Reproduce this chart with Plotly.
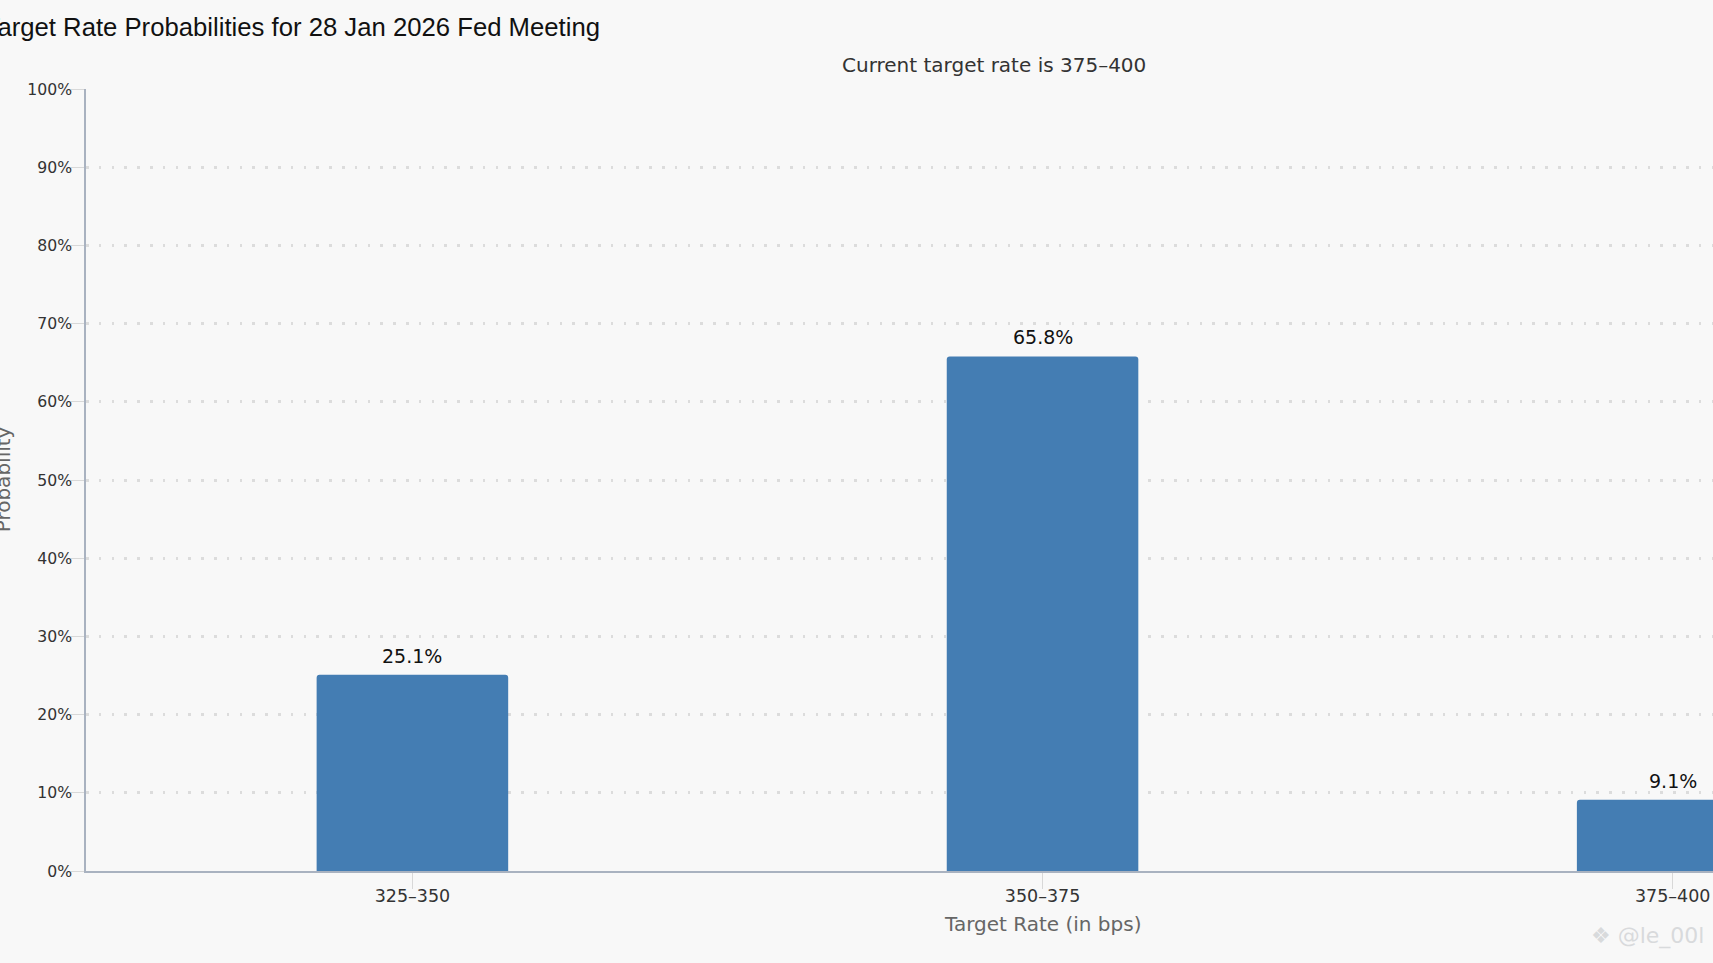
import plotly.graph_objects as go

categories = ["325–350", "350–375", "375–400"]
probabilities = [25.1, 65.8, 9.1]
data_labels = ["25.1%", "65.8%", "9.1%"]
y_ticks = [0, 10, 20, 30, 40, 50, 60, 70, 80, 90, 100]
y_tick_labels = ["0%", "10%", "20%", "30%", "40%", "50%", "60%", "70%", "80%", "90%", "100%"]

FONT = "DejaVu Sans"
BG = "#f8f8f8"
AXIS_LEFT = 86
PLOT_W = 1713 - AXIS_LEFT
PLOT_H = 782

fig = go.Figure(go.Bar(
    x=categories,
    y=probabilities,
    width=0.304,
    marker=dict(color="#447db3", cornerradius=3, line=dict(width=0)),
    hoverinfo="x+y",
))

label_annotations = [
    dict(text=t, x=c, y=v, xref="x", yref="y", showarrow=False, yshift=19,
         xanchor="center", yanchor="middle",
         font=dict(family=FONT, size=19, color="#111111"))
    for c, v, t in zip(categories, probabilities, data_labels)
]

fig.update_layout(
    width=1713,
    height=963,
    autosize=False,
    margin=dict(l=AXIS_LEFT, r=0, t=89, b=92, pad=0),
    paper_bgcolor=BG,
    plot_bgcolor=BG,
    showlegend=False,
    font=dict(family=FONT, size=16, color="#333333"),
    title=dict(
        text="Target Rate Probabilities for 28 Jan 2026 Fed Meeting",
        font=dict(family="Liberation Sans", size=25.7, color="#111111"),
        x=600 / 1713,
        xanchor="right",
        xref="container",
        y=1 - 27 / 963,
        yanchor="middle",
    ),
    annotations=label_annotations + [
        dict(text="Current target rate is 375–400", xref="paper", yref="paper",
             x=(994 - AXIS_LEFT) / PLOT_W, y=1 + 24 / PLOT_H, showarrow=False,
             font=dict(family=FONT, size=20, color="#333333"), xanchor="center", yanchor="middle"),
        dict(text="Target Rate (in bps)", xref="x", yref="paper",
             x=1, y=-53 / PLOT_H, showarrow=False,
             font=dict(family=FONT, size=20, color="#666666"), xanchor="center", yanchor="middle"),
        dict(text="Probability", xref="paper", yref="paper", textangle=-90,
             x=(3.3 - AXIS_LEFT) / PLOT_W, y=0.5 + 1 / PLOT_H, showarrow=False,
             font=dict(family=FONT, size=20, color="#666666"), xanchor="center", yanchor="middle"),
        dict(text="❖ @le_00l", xref="paper", yref="paper",
             x=(1706 - AXIS_LEFT) / PLOT_W, y=-65 / PLOT_H, showarrow=False,
             font=dict(family=FONT, size=22, color="#d8dadc"), xanchor="right", yanchor="middle"),
    ],
    xaxis=dict(
        type="category",
        categoryorder="array",
        categoryarray=categories,
        range=[-0.518, 2.064],
        automargin=False,
        showgrid=False,
        showline=True,
        linecolor="#a9b2c0",
        linewidth=1.5,
        ticks="outside",
        ticklen=16,
        tickwidth=1,
        tickcolor="#d8d8d8",
        ticklabelstandoff=-8,
        tickfont=dict(family=FONT, size=17.5, color="#333333"),
        zeroline=False,
    ),
    yaxis=dict(
        range=[0, 100],
        automargin=False,
        tickmode="array",
        tickvals=y_ticks,
        ticktext=y_tick_labels,
        showgrid=True,
        griddash="2.5px,10.3px",
        gridcolor="#dcdcdc",
        gridwidth=2.5,
        showline=True,
        linecolor="#a9b2c0",
        linewidth=1.5,
        ticks="outside",
        ticklen=13,
        tickwidth=1,
        tickcolor="#d8d8d8",
        ticklabelstandoff=-4,
        tickfont=dict(family=FONT, size=15.7, color="#333333"),
        zeroline=False,
    ),
)

fig.write_html(
    "out.html",
    config={"displayModeBar": False},
    post_script="document.body.style.margin='0';document.body.style.background='#f8f8f8';",
)
